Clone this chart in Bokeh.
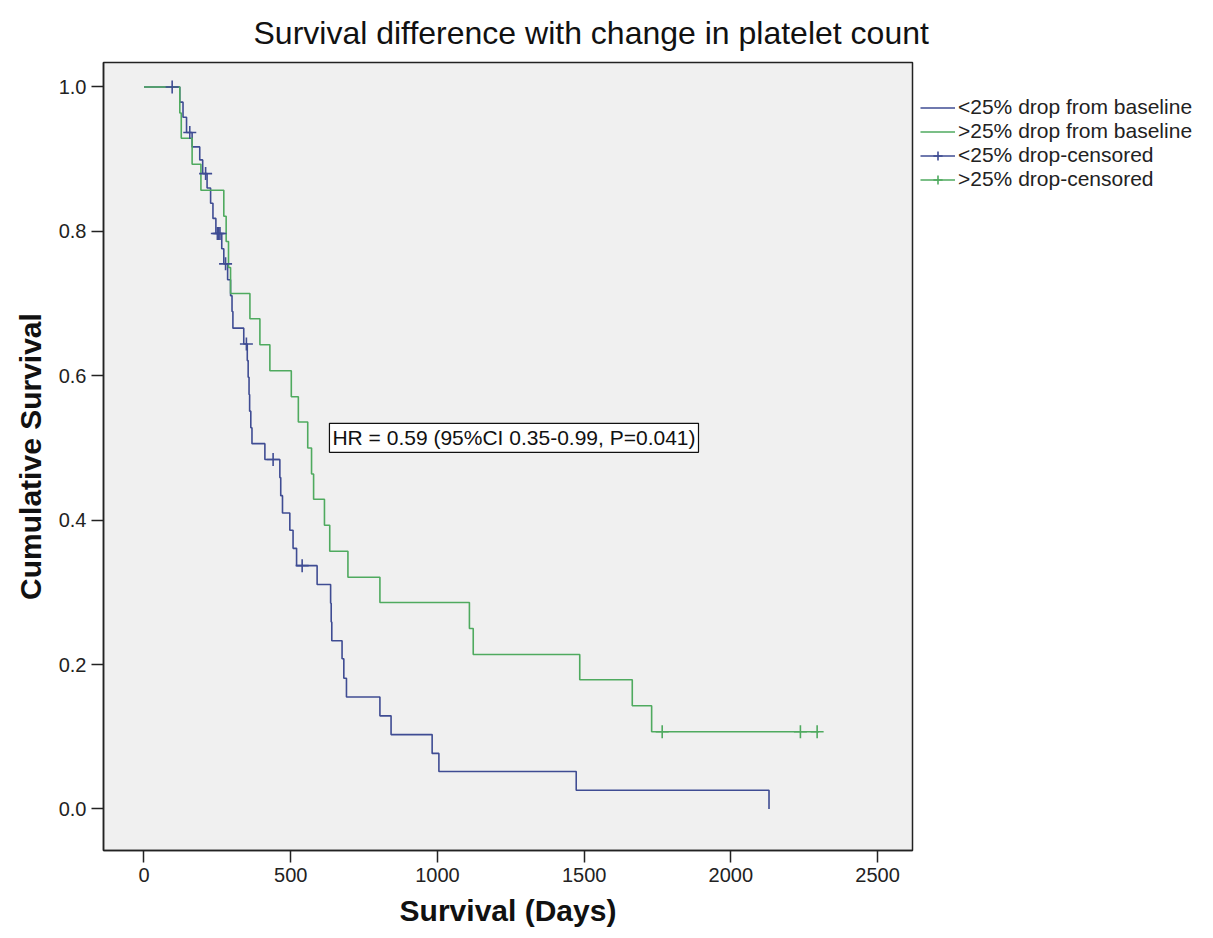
from bokeh.plotting import figure
from bokeh.models import (Range1d, FixedTicker, PrintfTickFormatter, Legend,
                          LegendItem, Label, ColumnDataSource)
from bokeh.embed import file_html
from bokeh.resources import INLINE

# ---- data ----
# <25% drop group: step times (days) and survival level after each step
blue_t = [0, 122, 133, 145, 164, 190, 200, 215, 227, 235, 245, 265, 272, 285, 295,
          300, 303, 340, 352, 355, 358, 360, 364, 368, 412, 463, 466, 472, 497, 508,
          520, 590, 636, 638, 640, 675, 681, 690, 804, 842, 982, 1005, 1473, 2130]
blue_s = [1.0, 0.979, 0.958, 0.937, 0.917, 0.899, 0.880, 0.860, 0.839, 0.818, 0.797,
          0.776, 0.755, 0.733, 0.711, 0.689, 0.666, 0.644, 0.621, 0.598, 0.574, 0.551,
          0.528, 0.506, 0.484, 0.459, 0.434, 0.410, 0.386, 0.361, 0.337, 0.311, 0.285,
          0.259, 0.233, 0.208, 0.181, 0.155, 0.129, 0.103, 0.077, 0.052, 0.026, 0.0]
blue_censor_t = [96, 156, 210, 250, 255, 259, 278, 349, 440, 539]

# >25% drop group
green_t = [0, 122, 127, 164, 194, 272, 280, 288, 295, 361, 395, 429, 502, 526, 558,
           571, 578, 615, 633, 695, 804, 1109, 1122, 1485, 1664, 1730]
green_s = [1.0, 0.964, 0.929, 0.893, 0.857, 0.821, 0.786, 0.750, 0.714, 0.679, 0.643,
           0.607, 0.571, 0.536, 0.500, 0.464, 0.429, 0.393, 0.357, 0.321, 0.286, 0.250,
           0.214, 0.179, 0.143, 0.107]
green_censor_t = [1766, 2237, 2294]
green_end = 2300

x_ticks = [0, 500, 1000, 1500, 2000, 2500]
y_ticks = [0.0, 0.2, 0.4, 0.6, 0.8, 1.0]

series_labels = ["<25% drop from baseline", ">25% drop from baseline",
                 "<25% drop-censored", ">25% drop-censored"]
hr_text = "HR = 0.59 (95%CI 0.35-0.99, P=0.041)"
title_text = "Survival difference with change in platelet count"

BLUE = "#3F4C93"
GREEN = "#4FAA5F"
FONT = "Liberation Sans"


def level_at(ts, ss, t):
    v = ss[0]
    for ti, si in zip(ts, ss):
        if ti <= t:
            v = si
    return v


p = figure(frame_width=809, frame_height=788,
           x_range=Range1d(-138, 2619), y_range=Range1d(-0.0575, 1.0339),
           output_backend="svg", toolbar_location=None,
           min_border_left=103, min_border_right=293, min_border_top=62,
           min_border_bottom=80, background_fill_color="#F0F0F0",
           border_fill_color="white", outline_line_color="#222222",
           outline_line_width=1.5)

p.title.text = title_text
p.title.align = "left"
p.title.offset = 150
p.title.standoff = 24
p.title.text_font = FONT
p.title.text_font_size = "32px"
p.title.text_font_style = "normal"
p.title.text_color = "#111111"

p.grid.visible = False
for ax in (p.xaxis[0], p.yaxis[0]):
    ax.major_tick_out = 12
    ax.major_tick_in = 0
    ax.minor_tick_out = 0
    ax.minor_tick_in = 0
    ax.axis_line_width = 1.5
    ax.axis_line_color = "#222222"
    ax.major_tick_line_color = "#222222"
    ax.major_tick_line_width = 1.5
    ax.major_label_text_font = FONT
    ax.major_label_text_font_size = "20px"
    ax.major_label_text_color = "#222222"
    ax.axis_label_text_font = FONT
    ax.axis_label_text_font_style = "bold"
    ax.axis_label_text_color = "#111111"
    ax.axis_label_text_font_size = "30px"

p.xaxis[0].ticker = FixedTicker(ticks=x_ticks)
p.yaxis[0].ticker = FixedTicker(ticks=y_ticks)
p.yaxis[0].formatter = PrintfTickFormatter(format="%.1f")
p.xaxis[0].axis_label = "Survival (Days)"
p.yaxis[0].axis_label = "Cumulative Survival"
p.xaxis[0].major_label_standoff = 5
p.yaxis[0].major_label_standoff = 5
p.xaxis[0].axis_label_standoff = 9
p.yaxis[0].axis_label_standoff = 9

# step curves
r_blue = p.step(blue_t, blue_s, mode="after", line_color=BLUE, line_width=1.6)
r_green = p.step(green_t + [green_end], green_s + [green_s[-1]], mode="after",
                 line_color=GREEN, line_width=1.6)

# censor marks
bc = ColumnDataSource(dict(x=blue_censor_t,
                           y=[level_at(blue_t, blue_s, t) for t in blue_censor_t]))
gc = ColumnDataSource(dict(x=green_censor_t,
                           y=[level_at(green_t, green_s, t) for t in green_censor_t]))
r_bc = p.scatter("x", "y", source=bc, marker="cross", size=13, line_color=BLUE,
                 line_width=1.6)
r_gc = p.scatter("x", "y", source=gc, marker="cross", size=13, line_color=GREEN,
                 line_width=1.6)

# off-screen line renderers, used only for the legend glyphs of the censored items
far = [-100000, -99999]
d_b = p.line(far, far, line_color=BLUE, line_width=1.6)
d_g = p.line(far, far, line_color=GREEN, line_width=1.6)

legend = Legend(items=[
    LegendItem(label=series_labels[0], renderers=[r_blue]),
    LegendItem(label=series_labels[1], renderers=[r_green]),
    LegendItem(label=series_labels[2], renderers=[d_b, r_bc]),
    LegendItem(label=series_labels[3], renderers=[d_g, r_gc]),
], location=(8, 659), orientation="vertical", border_line_color=None,
    background_fill_alpha=0, padding=0, margin=0, spacing=0,
    glyph_width=35, glyph_height=23, label_height=23, label_standoff=3,
    label_text_font=FONT, label_text_font_size="21px", label_text_color="#222222")
p.add_layout(legend, "right")

hr = Label(x=632, y=0.514, text=hr_text, text_baseline="middle", text_align="left",
           text_font=FONT, text_font_size="21px", text_color="#111111",
           border_line_color="#111111", border_line_width=1.2,
           background_fill_color="white", padding=3)
p.add_layout(hr)

open("out.html", "w").write(file_html(p, INLINE))
